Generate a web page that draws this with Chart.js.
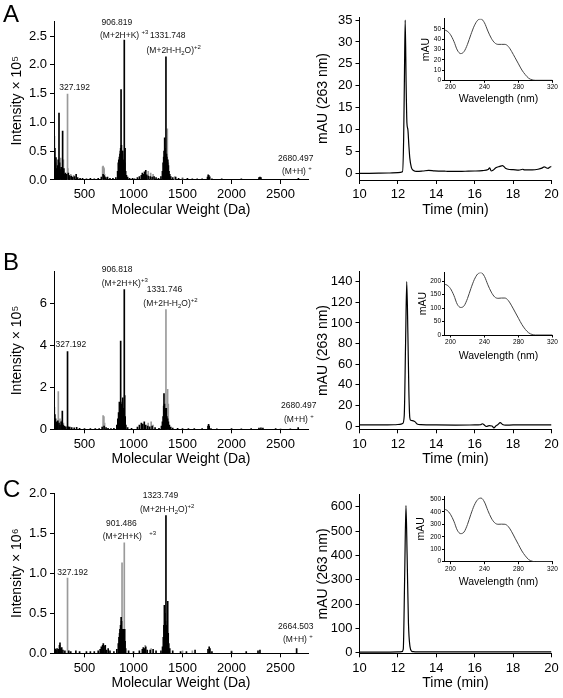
<!DOCTYPE html>
<html>
<head>
<meta charset="utf-8">
<script src="https://cdn.jsdelivr.net/npm/chart.js@4.4.1/dist/chart.umd.min.js"></script>
<style>
  body { margin: 0; background: #fff; }
  #fig { position: relative; width: 563px; height: 698px; overflow: hidden; font-family: 'Liberation Sans', Arial, sans-serif; }
  #fig canvas { position: absolute; left: 0; top: 0; }
  .tag { position: absolute; font-size: 24px; line-height: 1; }
  .ann { position: absolute; font-size: 8.5px; line-height: 1; white-space: nowrap; color: #111; }
  .sup { font-size: 6px; position: relative; top: -4px; }
  .sub { font-size: 6px; position: relative; top: 2px; }
</style>
</head>
<body>
<div id="fig">
  <canvas id="msA" width="563" height="698"></canvas>
  <canvas id="msB" width="563" height="698"></canvas>
  <canvas id="msC" width="563" height="698"></canvas>
  <canvas id="lcA" width="563" height="698"></canvas>
  <canvas id="lcB" width="563" height="698"></canvas>
  <canvas id="lcC" width="563" height="698"></canvas>
  <canvas id="uvA" width="563" height="698"></canvas>
  <canvas id="uvB" width="563" height="698"></canvas>
  <canvas id="uvC" width="563" height="698"></canvas>

  <div class="tag" style="left:3px;top:2px">A</div>
  <div class="tag" style="left:3px;top:250px">B</div>
  <div class="tag" style="left:3px;top:477px">C</div>

  <!-- peak labels, panel A -->
  <div class="ann" style="left:101.5px;top:18px">906.819</div>
  <div class="ann" style="left:100px;top:31px">(M+2H+K) <span class="sup">+3</span></div>
  <div class="ann" style="left:150px;top:31px">1331.748</div>
  <div class="ann" style="left:146.5px;top:45.5px">(M+2H-H<span class="sub">2</span>O)<span class="sup">+2</span></div>
  <div class="ann" style="left:59.3px;top:83px">327.192</div>
  <div class="ann" style="left:278px;top:154px">2680.497</div>
  <div class="ann" style="left:282px;top:167px">(M+H) <span class="sup">+</span></div>

  <!-- peak labels, panel B -->
  <div class="ann" style="left:101.7px;top:265px">906.818</div>
  <div class="ann" style="left:101.7px;top:279px">(M+2H+K)<span class="sup">+3</span></div>
  <div class="ann" style="left:146.7px;top:285px">1331.746</div>
  <div class="ann" style="left:143.3px;top:298.5px">(M+2H-H<span class="sub">2</span>O)<span class="sup">+2</span></div>
  <div class="ann" style="left:55.5px;top:340px">327.192</div>
  <div class="ann" style="left:281px;top:401px">2680.497</div>
  <div class="ann" style="left:284px;top:415px">(M+H) <span class="sup">+</span></div>

  <!-- peak labels, panel C -->
  <div class="ann" style="left:142.7px;top:490.5px">1323.749</div>
  <div class="ann" style="left:140px;top:505px">(M+2H-H<span class="sub">2</span>O)<span class="sup">+2</span></div>
  <div class="ann" style="left:106px;top:519px">901.486</div>
  <div class="ann" style="left:102.7px;top:531.5px">(M+2H+K) <span class="sup" style="margin-left:5px">+3</span></div>
  <div class="ann" style="left:57.3px;top:567.5px">327.192</div>
  <div class="ann" style="left:278px;top:621.5px">2664.503</div>
  <div class="ann" style="left:283px;top:635px">(M+H) <span class="sup">+</span></div>
</div>

<script>
// ---- mass spectra: peak m/z and intensity (black trace and grey trace) ----
const msA_blackMz  = [192, 198, 203, 209, 214, 220, 226, 232, 240, 246, 251, 262, 268, 277, 283, 290, 298, 305, 312, 318, 335, 342, 350, 365, 380, 398, 415, 430, 455, 480, 520, 560, 600, 640, 672, 690, 698, 705, 718, 735, 760, 790, 820, 838, 845, 850, 856, 862, 866, 869, 873, 877, 882, 886, 890, 894, 898, 906, 910, 914, 920, 928, 940, 960, 990, 1010, 1040, 1060, 1080, 1090, 1100, 1112, 1125, 1135, 1150, 1170, 1190, 1210, 1230, 1255, 1280, 1295, 1302, 1308, 1312, 1318, 1322, 1326, 1331, 1336, 1340, 1345, 1350, 1356, 1362, 1370, 1380, 1400, 1430, 1460, 1500, 1550, 1600, 1650, 1700, 1755, 1762, 1768, 1775, 1800, 1900, 2000, 2100, 2200, 2280, 2290, 2300, 2400, 2500, 2600, 2682, 2750];
const msA_blackInt = [0.76, 0.55, 0.3, 0.39, 0.2, 0.15, 0.25, 0.35, 1.16, 0.3, 0.18, 0.22, 0.12, 0.85, 0.15, 0.2, 0.1, 0.12, 0.08, 0.1, 0.12, 0.08, 0.06, 0.07, 0.05, 0.06, 0.1, 0.04, 0.03, 0.03, 0.02, 0.03, 0.02, 0.03, 0.05, 0.1, 0.08, 0.06, 0.04, 0.05, 0.03, 0.03, 0.04, 0.15, 0.3, 0.35, 0.4, 0.45, 0.5, 0.55, 1.57, 0.6, 0.5, 0.45, 0.5, 0.35, 0.3, 2.43, 0.3, 0.55, 0.15, 0.08, 0.05, 0.03, 0.03, 0.02, 0.04, 0.06, 0.08, 0.12, 0.1, 0.14, 0.17, 0.09, 0.07, 0.06, 0.05, 0.06, 0.04, 0.03, 0.06, 0.15, 0.3, 0.4, 0.5, 0.73, 0.55, 0.45, 2.14, 0.45, 0.4, 0.3, 0.35, 0.25, 0.15, 0.1, 0.06, 0.04, 0.05, 0.03, 0.02, 0.03, 0.02, 0.02, 0.02, 0.05, 0.09, 0.08, 0.05, 0.02, 0.02, 0.01, 0.02, 0.01, 0.04, 0.05, 0.04, 0.01, 0.01, 0.01, 0.03, 0.01];
const msA_greyMz   = [257, 285, 327, 330, 360, 390, 685, 690, 695, 700, 705, 880, 1150, 1175, 1200, 1300, 1345, 1355, 1420, 1500, 1780, 2290];
const msA_greyInt  = [0.38, 0.35, 1.49, 0.2, 0.1, 0.08, 0.23, 0.24, 0.22, 0.2, 0.1, 0.3, 0.15, 0.12, 0.1, 0.1, 0.89, 0.3, 0.06, 0.04, 0.06, 0.04];

const msB_blackMz  = [192, 198, 205, 212, 220, 228, 240, 250, 262, 274, 282, 295, 310, 327, 335, 350, 370, 395, 420, 450, 500, 560, 610, 650, 680, 700, 720, 740, 770, 800, 830, 840, 848, 856, 862, 869, 874, 880, 886, 890, 896, 906, 910, 915, 922, 940, 980, 1040, 1060, 1080, 1095, 1110, 1125, 1145, 1165, 1190, 1220, 1260, 1285, 1295, 1302, 1308, 1311, 1316, 1322, 1326, 1334, 1340, 1348, 1356, 1366, 1380, 1400, 1450, 1500, 1560, 1620, 1700, 1760, 1766, 1772, 1790, 1850, 2000, 2100, 2200, 2280, 2300, 2320, 2450, 2600, 2680];
const msB_blackInt = [1.05, 0.7, 0.5, 0.35, 0.3, 0.4, 0.3, 0.2, 0.35, 0.87, 0.2, 0.15, 0.12, 3.7, 0.12, 0.1, 0.08, 0.07, 0.09, 0.05, 0.03, 0.04, 0.03, 0.04, 0.1, 0.15, 0.08, 0.05, 0.04, 0.05, 0.2, 0.5, 0.8, 1.3, 1.0, 4.2, 1.2, 1.0, 1.3, 1.5, 1.0, 6.65, 1.6, 0.6, 0.2, 0.08, 0.05, 0.1, 0.2, 0.3, 0.25, 0.35, 0.2, 0.15, 0.12, 0.15, 0.08, 0.05, 0.15, 0.35, 0.6, 1.1, 1.7, 1.2, 0.9, 1.0, 1.0, 0.6, 0.5, 0.35, 0.2, 0.1, 0.06, 0.05, 0.03, 0.03, 0.04, 0.03, 0.15, 0.24, 0.15, 0.04, 0.02, 0.03, 0.02, 0.03, 0.06, 0.07, 0.06, 0.03, 0.02, 0.08];
const msB_greyMz   = [233, 250, 265, 285, 690, 698, 705, 1150, 1180, 1200, 1331, 1348, 1355, 1770, 2500];
const msB_greyInt  = [1.8, 0.5, 0.4, 0.3, 0.65, 0.6, 0.3, 0.3, 0.36, 0.2, 5.7, 1.9, 1.2, 0.1, 0.04];

const msC_blackMz  = [195, 202, 210, 220, 232, 245, 250, 258, 268, 280, 300, 340, 360, 412, 450, 520, 560, 600, 640, 660, 672, 685, 692, 700, 712, 725, 742, 760, 800, 830, 845, 852, 858, 862, 868, 874, 878, 884, 890, 895, 900, 910, 914, 920, 950, 1000, 1060, 1090, 1100, 1110, 1125, 1140, 1170, 1200, 1230, 1280, 1296, 1304, 1310, 1315, 1320, 1326, 1331, 1336, 1342, 1349, 1354, 1360, 1370, 1400, 1480, 1540, 1628, 1760, 1772, 1780, 1800, 2000, 2150, 2270, 2290, 2664];
const msC_blackInt = [0.06, 0.05, 0.04, 0.06, 0.05, 0.1, 0.13, 0.06, 0.07, 0.04, 0.03, 0.03, 0.02, 0.03, 0.02, 0.02, 0.02, 0.02, 0.03, 0.05, 0.08, 0.1, 0.12, 0.09, 0.1, 0.04, 0.06, 0.03, 0.02, 0.05, 0.12, 0.2, 0.25, 0.3, 0.35, 0.45, 0.4, 0.3, 0.25, 0.3, 0.2, 0.3, 0.15, 0.06, 0.03, 0.02, 0.03, 0.05, 0.07, 0.06, 0.08, 0.04, 0.04, 0.05, 0.03, 0.03, 0.08, 0.2, 0.35, 0.6, 0.5, 0.4, 1.72, 0.35, 0.3, 0.65, 0.25, 0.12, 0.06, 0.03, 0.02, 0.02, 0.04, 0.05, 0.08, 0.06, 0.02, 0.02, 0.02, 0.03, 0.04, 0.06];
const msC_greyMz   = [327, 883, 906, 1120, 1180, 1500, 1600, 2000];
const msC_greyInt  = [0.94, 1.13, 1.38, 0.1, 0.06, 0.03, 0.03, 0.03];

// ---- chromatograms at 263 nm: time (min) and absorbance (mAU) ----
const lcA_time = [10, 10.5, 11, 11.5, 12, 12.24, 12.3, 12.34, 12.38, 12.43, 12.47, 12.52, 12.57, 12.62, 12.7, 12.8, 12.9, 13.0, 13.3, 13.6, 13.9, 14.5, 15, 15.5, 16, 16.4, 16.7, 16.78, 16.86, 16.95, 17.1, 17.3, 17.45, 17.6, 17.8, 18.0, 18.3, 18.5, 18.6, 19.0, 19.3, 19.5, 19.62, 19.72, 19.82, 19.9, 20];
const lcA_mau  = [0, 0.02, 0.05, 0.1, 0.2, 0.4, 8, 22, 35, 20, 11.5, 10, 6.5, 3.5, 1.4, 0.7, 0.5, 0.45, 0.55, 0.7, 0.6, 0.5, 0.45, 0.5, 0.55, 0.65, 0.9, 1.3, 0.55, 0.7, 1.3, 1.6, 1.8, 1.2, 0.9, 0.85, 0.75, 0.95, 0.8, 0.8, 0.95, 1.2, 1.5, 1.3, 1.15, 1.4, 1.6];

const lcB_time = [10, 11, 11.8, 12.1, 12.25, 12.33, 12.4, 12.46, 12.52, 12.57, 12.62, 12.67, 12.8, 12.9, 13.0, 13.2, 14, 15, 16, 16.3, 16.4, 16.5, 16.6, 16.75, 16.9, 17.0, 17.1, 17.2, 17.33, 17.45, 17.6, 18, 19, 20];
const lcB_mau  = [1, 1, 1.2, 1.6, 2.5, 10, 80, 140, 90, 35, 8, 5.5, 5, 4, 2, 1.3, 1, 0.9, 1, 1.2, 2.2, 1, -0.5, 0.3, 0, -1.8, 0, 1.2, 3.2, 1.5, 0.8, 1, 1, 1];

const lcC_time = [10, 11, 12, 12.2, 12.28, 12.35, 12.42, 12.48, 12.55, 12.63, 12.72, 12.8, 13, 14, 15, 16, 17, 18, 19, 20];
const lcC_mau  = [2, 2, 3, 4, 15, 300, 605, 400, 120, 25, 6, 4, 3, 3, 3, 3, 3.5, 3, 3, 3];

// ---- UV spectra of the main peak (inset) ----
const uvWavelength = [193, 196, 200, 204, 208, 212, 216, 220, 224, 228, 232, 236, 240, 244, 248, 252, 256, 260, 264, 268, 272, 276, 280, 284, 288, 292, 296, 300, 310, 320];
const uvA_mau = [49, 48, 44.5, 38, 29.5, 26, 28, 35, 44.5, 53, 58.5, 59.7, 56, 48, 41, 36.5, 35, 35, 35, 33, 28, 22, 16, 10, 5.5, 2, 0.5, 0, 0, 0];
const uvB_mau = [188, 185, 172, 147, 114, 102, 108, 135, 172, 205, 226, 231, 217, 186, 159, 141, 136, 137, 137, 128, 108, 85, 62, 39, 21, 8, 2, 0, 0, 0];
const uvC_mau = [420, 412, 380, 325, 253, 225, 238, 298, 380, 452, 498, 510, 478, 410, 350, 312, 300, 301, 300, 282, 240, 188, 137, 86, 47, 17, 4, 0, 0, 0];

// ---- axis ticks ----
const mwTicks   = [500, 1000, 1500, 2000, 2500];
const timeTicks = [10, 12, 14, 16, 18, 20];
const wlTicks   = [200, 240, 280, 320];
const msA_yTicks = [0, 0.5, 1.0, 1.5, 2.0, 2.5];
const msB_yTicks = [0, 2, 4, 6];
const msC_yTicks = [0, 0.5, 1.0, 1.5, 2.0];
const lcA_yTicks = [0, 5, 10, 15, 20, 25, 30, 35];
const lcB_yTicks = [0, 20, 40, 60, 80, 100, 120, 140];
const lcC_yTicks = [0, 100, 200, 300, 400, 500, 600];
const uvA_yTicks = [0, 10, 20, 30, 40, 50];
const uvB_yTicks = [0, 50, 100, 150, 200];
const uvC_yTicks = [0, 100, 200, 300, 400, 500];

const W = 563, H = 698;
const SANS = "'Liberation Sans', Arial, Helvetica, sans-serif";
Chart.defaults.font.family = SANS;
Chart.defaults.color = '#000';

const pts = (xs, ys) => xs.map((x, i) => ({ x: x, y: ys[i] }));

function axis(min, max, ticks, fmt, c) {
  return {
    type: 'linear', min: min, max: max, offset: false,
    afterBuildTicks: s => { s.ticks = ticks.map(v => ({ value: v })); },
    grid: { display: true, offset: false, drawOnChartArea: false, drawTicks: true, tickLength: c.tickLen, color: '#000', lineWidth: 1 },
    border: { display: true, color: '#000', width: 1 },
    ticks: { font: { size: c.tickSize }, color: '#000', padding: c.tickPad, maxRotation: 0, autoSkip: false, callback: fmt },
    title: { display: true, font: { size: c.titleSize }, color: '#000', padding: 0 }
  };
}

// c: plot box (left/top/right/bottom in page px), axis box sizes, ranges, titles
function panel(id, type, datasets, c) {
  const x = axis(c.xMin, c.xMax, c.xTicks, v => String(v), c);
  x.afterFit = s => { s.height = c.xH; };
  x.title.text = c.xTitle;
  const y = axis(c.yMin, c.yMax, c.yTicks, c.yFmt || (v => String(v)), c);
  y.afterFit = s => { s.width = c.yW; };
  y.title.text = c.yTitle;
  return new Chart(document.getElementById(id), {
    type: type,
    data: { datasets: datasets },
    options: {
      responsive: false, animation: false, devicePixelRatio: 1, events: [],
      layout: { padding: { left: c.left - c.yW, top: c.top, right: W - c.right, bottom: H - c.bottom - c.xH } },
      plugins: { legend: { display: false }, tooltip: { enabled: false } },
      elements: { point: { radius: 0 } },
      scales: { x: x, y: y }
    }
  });
}

function sticks(mz, inten, color) {
  return { data: pts(mz, inten), backgroundColor: color, borderWidth: 0, barThickness: 1, grouped: false };
}
function trace(t, v, color, width) {
  return { data: pts(t, v), borderColor: color, borderWidth: width, fill: false, cubicInterpolationMode: 'monotone' };
}

const main = { tickLen: 4, tickPad: 3, tickSize: 13, titleSize: 14, xH: 38.4 };
const msBox = Object.assign({}, main, { left: 54, right: 308, xMin: 189, xMax: 2780, xTicks: mwTicks, yW: 45.7, xTitle: 'Molecular Weight (Da)' });
const lcBox = Object.assign({}, main, { left: 359.5, right: 551.5, xMin: 10, xMax: 20, xTicks: timeTicks, yW: 44.6, xTitle: 'Time (min)', yTitle: 'mAU (263 nm)' });
const uvBox = { tickLen: 2.5, tickPad: 1, tickSize: 6.5, titleSize: 10.5, left: 444.5, right: 552.5, xMin: 193, xMax: 320, xTicks: wlTicks, xTitle: 'Wavelength (nm)', yTitle: 'mAU' };
const one = v => v.toFixed(1);

// panel A
panel('msA', 'bar', [sticks(msA_blackMz, msA_blackInt, '#000'), sticks(msA_greyMz, msA_greyInt, '#9a9a9a')],
  Object.assign({}, msBox, { top: 21.6, bottom: 180, yMin: 0, yMax: 2.75, yTicks: msA_yTicks, yFmt: one, yTitle: 'Intensity \u00d7 10\u2075' }));
panel('lcA', 'line', [trace(lcA_time, lcA_mau, '#000', 1.2)],
  Object.assign({}, lcBox, { top: 17, bottom: 180, yMin: -1.5, yMax: 35.7, yTicks: lcA_yTicks }));
panel('uvA', 'line', [trace(uvWavelength, uvA_mau, '#444', 1)],
  Object.assign({}, uvBox, { top: 18.7, bottom: 80.3, xH: 25.6, yW: 24.5, yMin: 0, yMax: 60, yTicks: uvA_yTicks }));

// panel B
panel('msB', 'bar', [sticks(msB_blackMz, msB_blackInt, '#000'), sticks(msB_greyMz, msB_greyInt, '#9a9a9a')],
  Object.assign({}, msBox, { top: 271.8, bottom: 429.3, yMin: 0, yMax: 7.5, yTicks: msB_yTicks, yTitle: 'Intensity \u00d7 10\u2075' }));
panel('lcB', 'line', [trace(lcB_time, lcB_mau, '#000', 1.2)],
  Object.assign({}, lcBox, { top: 271.7, bottom: 429.3, yMin: -3.2, yMax: 149.7, yTicks: lcB_yTicks }));
panel('uvB', 'line', [trace(uvWavelength, uvB_mau, '#444', 1)],
  Object.assign({}, uvBox, { top: 272.4, bottom: 335, xH: 27.6, yW: 28, yMin: 0, yMax: 232, yTicks: uvB_yTicks }));

// panel C
panel('msC', 'bar', [sticks(msC_blackMz, msC_blackInt, '#000'), sticks(msC_greyMz, msC_greyInt, '#9a9a9a')],
  Object.assign({}, msBox, { top: 493.3, bottom: 653.3, yMin: 0, yMax: 2.0, yTicks: msC_yTicks, yFmt: one, yTitle: 'Intensity \u00d7 10\u2076' }));
panel('lcC', 'line', [trace(lcC_time, lcC_mau, '#000', 1.2)],
  Object.assign({}, lcBox, { top: 494.5, bottom: 653.3, yMin: -2.5, yMax: 650, yTicks: lcC_yTicks }));
panel('uvC', 'line', [trace(uvWavelength, uvC_mau, '#444', 1)],
  Object.assign({}, uvBox, { top: 496.2, bottom: 561.7, xH: 26.6, yW: 30, yMin: 0, yMax: 525, yTicks: uvC_yTicks }));
</script>
</body>
</html>
